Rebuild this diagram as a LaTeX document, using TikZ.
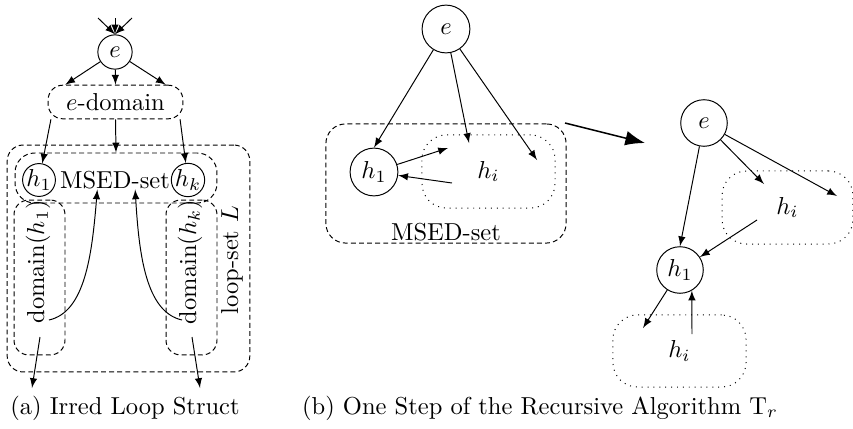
\documentclass[tikz,border=0pt]{standalone}
\usetikzlibrary{positioning,calc,shapes,arrows,arrows.meta}
\tikzstyle{circ}=[draw,circle,inner sep=0pt,minimum size=14pt]
\tikzstyle{bigcirc}=[draw,circle,inner sep=0pt,minimum size=19.5pt]
\tikzstyle{dbox}=[draw,dash pattern=on 2pt off 1.3pt,rounded corners=6pt]
\tikzstyle{obox}=[draw,dotted,rounded corners=10pt]
\tikzstyle{txt}=[inner sep=0pt]
\tikzstyle{arr}=[-latex]
\tikzstyle{bigarr}=[-{Latex[length=8pt,width=6pt]},semithick]

\begin{document}
\begin{tikzpicture}[x=0.408pt,y=-0.408pt]
  \useasboundingbox (0,0) rectangle (853,429);

  % (a) irreducible loop structure
  \node (E1) [circ] at (115,52) {$e$};
  \node (ED) [dbox,minimum width=55pt,minimum height=13pt] at (115.5,102) {$e$-domain};
  \node (LS) [dbox,minimum width=99pt,minimum height=92.6pt,rounded corners=6.5pt] at (128.5,258.5) {};
  \node (MS) [dbox,minimum width=82.4pt,minimum height=20.4pt,rounded corners=8pt] at (116,178) {};
  \node (DH1) [dbox,minimum width=20.8pt,minimum height=63.2pt] at (39.5,277.5) {};
  \node (DHK) [dbox,minimum width=20.8pt,minimum height=63.2pt] at (191.5,277.5) {};
  \node (H1) [circ,minimum size=13.4pt] at (39,180) {$h_1$};
  \node (HK) [circ,minimum size=13.4pt] at (188,180) {$h_k$};
  \node (MT) [txt] at (115,180) {MSED-set};
  \node (DT1) [txt,rotate=90] at (38,262) {domain$(h_1)$};
  \node (DTK) [txt,rotate=90] at (190,262) {domain$(h_k)$};
  \node (LT) [txt,rotate=90] at (232,260) {loop-set $L$};
  \node (CA) at (125,408) {(a) Irred Loop Struct};

  \coordinate (I1) at (98,18);
  \coordinate (I2) at (115,18);
  \coordinate (I3) at (132,18);
  \coordinate (C1) at (49,320);
  \coordinate (CK) at (182,320);
  \coordinate (O1) at (40,337);
  \coordinate (P1) at (32,388);
  \coordinate (OK) at (192,337);
  \coordinate (PK) at (200,388);

  \draw[arr] (I1) -- (E1.north);
  \draw[arr] (I2) -- (E1.north);
  \draw[arr] (I3) -- (E1.north);
  \draw[arr] (E1) -- (ED.161);
  \draw[arr] (E1) -- (ED.north);
  \draw[arr] (E1) -- (ED.19);
  \draw[arr] (ED.195) -- (H1);
  \draw[arr] (ED.south) -- (MS.north);
  \draw[arr] (ED.345) -- (HK);
  \draw[arr] (C1) .. controls (85,312) and (92,255) .. (MT.208);
  \draw[arr] (CK) .. controls (146,312) and (139,255) .. (MT.335);
  \draw[arr] (O1) -- (P1);
  \draw[arr] (OK) -- (PK);

  % (b) one step of T_r
  \node (E2) [bigcirc] at (446,29) {$e$};
  \node (MB) [dbox,minimum width=98pt,minimum height=48.6pt,rounded corners=8pt] at (446,183.5) {};
  \node (HB) [obox,minimum width=54.3pt,minimum height=29.8pt] at (488.5,171.5) {$h_i$};
  \node (H2) [bigcirc] at (374,172) {$h_1$};
  \node (MBT) [txt] at (446,232) {MSED-set};

  \coordinate (T1) at (469,143);
  \coordinate (T2) at (537,160);
  \coordinate (T3) at (448,148);
  \coordinate (T4) at (452,183);
  \coordinate (S1) at (565,123);
  \coordinate (S2) at (645,143);

  \draw[arr] (E2) -- (H2.north);
  \draw[arr] (E2) -- (T1);
  \draw[arr] (E2) -- (T2);
  \draw[arr] (H2) -- (T3);
  \draw[arr] (T4) -- (H2);
  \draw[bigarr] (S1) -- (S2);

  \node (E3) [bigcirc,minimum size=19pt] at (704,123) {$e$};
  \node (HC1) [obox,minimum width=53.4pt,minimum height=29.8pt] at (787.5,207.5) {$h_i$};
  \node (H3) [bigcirc,minimum size=19pt] at (680,270) {$h_1$};
  \node (HC2) [obox,minimum width=54.3pt,minimum height=29.4pt] at (679.5,351) {$h_i$};
  \node (CB) at (540,408) {(b) One Step of the Recursive Algorithm T$_r$};

  \coordinate (U1) at (764,184);
  \coordinate (U2) at (837,196);
  \coordinate (U3) at (757,220);
  \coordinate (U4) at (643,328);
  \coordinate (U5) at (692,334);

  \draw[arr] (E3) -- (H3.north);
  \draw[arr] (E3) -- (U1);
  \draw[arr] (E3) -- (U2);
  \draw[arr] (U3) -- (H3);
  \draw[arr] (H3) -- (U4);
  \draw[arr] (U5) -- (H3.-60);
\end{tikzpicture}
\end{document}
